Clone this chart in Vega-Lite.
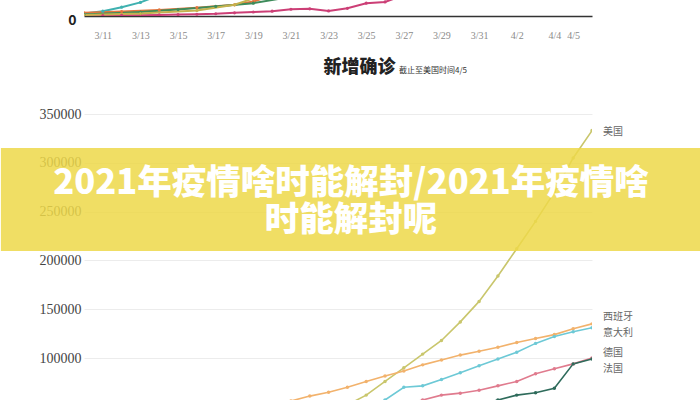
{
  "$schema": "https://vega.github.io/schema/vega-lite/v6.json",
  "padding": 0,
  "background": "white",
  "bounds": "flush",
  "spacing": 98,
  "resolve": {"scale": {"color": "independent", "x": "independent", "y": "independent"}},
  "config": {"view": {"stroke": null}, "font": "Noto Sans CJK SC"},
  "datasets": {
    "top": [
      {"series": "美国", "date": "2020-03-10", "cases": 20},
      {"series": "美国", "date": "2020-03-11", "cases": 30},
      {"series": "美国", "date": "2020-03-12", "cases": 40},
      {"series": "美国", "date": "2020-03-13", "cases": 50},
      {"series": "美国", "date": "2020-03-14", "cases": 70},
      {"series": "美国", "date": "2020-03-15", "cases": 90},
      {"series": "美国", "date": "2020-03-16", "cases": 110},
      {"series": "美国", "date": "2020-03-17", "cases": 140},
      {"series": "美国", "date": "2020-03-18", "cases": 200},
      {"series": "美国", "date": "2020-03-19", "cases": 250},
      {"series": "美国", "date": "2020-03-20", "cases": 300},
      {"series": "美国", "date": "2020-03-21", "cases": 420},
      {"series": "美国", "date": "2020-03-22", "cases": 450},
      {"series": "美国", "date": "2020-03-23", "cases": 320},
      {"series": "美国", "date": "2020-03-24", "cases": 480},
      {"series": "美国", "date": "2020-03-25", "cases": 800},
      {"series": "美国", "date": "2020-03-26", "cases": 880},
      {"series": "美国", "date": "2020-03-27", "cases": 1300},
      {"series": "意大利", "date": "2020-03-10", "cases": 150},
      {"series": "意大利", "date": "2020-03-11", "cases": 300},
      {"series": "意大利", "date": "2020-03-12", "cases": 550},
      {"series": "意大利", "date": "2020-03-13", "cases": 850},
      {"series": "意大利", "date": "2020-03-14", "cases": 1300},
      {"series": "西班牙", "date": "2020-03-10", "cases": 200},
      {"series": "西班牙", "date": "2020-03-12", "cases": 280},
      {"series": "西班牙", "date": "2020-03-14", "cases": 380},
      {"series": "西班牙", "date": "2020-03-16", "cases": 520},
      {"series": "西班牙", "date": "2020-03-18", "cases": 700},
      {"series": "西班牙", "date": "2020-03-19", "cases": 900},
      {"series": "西班牙", "date": "2020-03-20", "cases": 1300},
      {"series": "德国", "date": "2020-03-10", "cases": 100},
      {"series": "德国", "date": "2020-03-13", "cases": 250},
      {"series": "德国", "date": "2020-03-15", "cases": 400},
      {"series": "德国", "date": "2020-03-17", "cases": 600},
      {"series": "德国", "date": "2020-03-19", "cases": 800},
      {"series": "德国", "date": "2020-03-21", "cases": 1200},
      {"series": "法国", "date": "2020-03-10", "cases": 60},
      {"series": "法国", "date": "2020-03-13", "cases": 150},
      {"series": "法国", "date": "2020-03-16", "cases": 350},
      {"series": "法国", "date": "2020-03-18", "cases": 700},
      {"series": "法国", "date": "2020-03-19", "cases": 1100}
    ],
    "main": [
      {"series": "美国", "date": "2020-03-24", "cases": 52000},
      {"series": "美国", "date": "2020-03-25", "cases": 62000},
      {"series": "美国", "date": "2020-03-26", "cases": 76000},
      {"series": "美国", "date": "2020-03-27", "cases": 90000},
      {"series": "美国", "date": "2020-03-28", "cases": 104000},
      {"series": "美国", "date": "2020-03-29", "cases": 118000},
      {"series": "美国", "date": "2020-03-30", "cases": 137000},
      {"series": "美国", "date": "2020-03-31", "cases": 158000},
      {"series": "美国", "date": "2020-04-01", "cases": 184000},
      {"series": "美国", "date": "2020-04-02", "cases": 212000},
      {"series": "美国", "date": "2020-04-03", "cases": 240000},
      {"series": "美国", "date": "2020-04-04", "cases": 270000},
      {"series": "美国", "date": "2020-04-05", "cases": 305000},
      {"series": "美国", "date": "2020-04-06", "cases": 333000},
      {"series": "西班牙", "date": "2020-03-20", "cases": 52000},
      {"series": "西班牙", "date": "2020-03-21", "cases": 56000},
      {"series": "西班牙", "date": "2020-03-22", "cases": 61000},
      {"series": "西班牙", "date": "2020-03-23", "cases": 65000},
      {"series": "西班牙", "date": "2020-03-24", "cases": 70000},
      {"series": "西班牙", "date": "2020-03-25", "cases": 76000},
      {"series": "西班牙", "date": "2020-03-26", "cases": 81600},
      {"series": "西班牙", "date": "2020-03-27", "cases": 86700},
      {"series": "西班牙", "date": "2020-03-28", "cases": 93000},
      {"series": "西班牙", "date": "2020-03-29", "cases": 98000},
      {"series": "西班牙", "date": "2020-03-30", "cases": 103000},
      {"series": "西班牙", "date": "2020-03-31", "cases": 107000},
      {"series": "西班牙", "date": "2020-04-01", "cases": 111000},
      {"series": "西班牙", "date": "2020-04-02", "cases": 116000},
      {"series": "西班牙", "date": "2020-04-03", "cases": 120000},
      {"series": "西班牙", "date": "2020-04-04", "cases": 124000},
      {"series": "西班牙", "date": "2020-04-05", "cases": 130000},
      {"series": "西班牙", "date": "2020-04-06", "cases": 135000},
      {"series": "意大利", "date": "2020-03-24", "cases": 47000},
      {"series": "意大利", "date": "2020-03-25", "cases": 50000},
      {"series": "意大利", "date": "2020-03-26", "cases": 57000},
      {"series": "意大利", "date": "2020-03-27", "cases": 70000},
      {"series": "意大利", "date": "2020-03-28", "cases": 71500},
      {"series": "意大利", "date": "2020-03-29", "cases": 78000},
      {"series": "意大利", "date": "2020-03-30", "cases": 85000},
      {"series": "意大利", "date": "2020-03-31", "cases": 92000},
      {"series": "意大利", "date": "2020-04-01", "cases": 99000},
      {"series": "意大利", "date": "2020-04-02", "cases": 106000},
      {"series": "意大利", "date": "2020-04-03", "cases": 115000},
      {"series": "意大利", "date": "2020-04-04", "cases": 122000},
      {"series": "意大利", "date": "2020-04-05", "cases": 127000},
      {"series": "意大利", "date": "2020-04-06", "cases": 131000},
      {"series": "德国", "date": "2020-03-27", "cases": 52000},
      {"series": "德国", "date": "2020-03-28", "cases": 57000},
      {"series": "德国", "date": "2020-03-29", "cases": 62000},
      {"series": "德国", "date": "2020-03-30", "cases": 64000},
      {"series": "德国", "date": "2020-03-31", "cases": 67000},
      {"series": "德国", "date": "2020-04-01", "cases": 71500},
      {"series": "德国", "date": "2020-04-02", "cases": 76000},
      {"series": "德国", "date": "2020-04-03", "cases": 84000},
      {"series": "德国", "date": "2020-04-04", "cases": 89000},
      {"series": "德国", "date": "2020-04-05", "cases": 94000},
      {"series": "德国", "date": "2020-04-06", "cases": 100000},
      {"series": "法国", "date": "2020-03-31", "cases": 52000},
      {"series": "法国", "date": "2020-04-01", "cases": 57000},
      {"series": "法国", "date": "2020-04-02", "cases": 62000},
      {"series": "法国", "date": "2020-04-03", "cases": 64500},
      {"series": "法国", "date": "2020-04-04", "cases": 69000},
      {"series": "法国", "date": "2020-04-05", "cases": 94000},
      {"series": "法国", "date": "2020-04-06", "cases": 99000}
    ],
    "labels": [
      {"label": "美国", "date": "2020-04-06", "cases": 332000},
      {"label": "西班牙", "date": "2020-04-06", "cases": 142000},
      {"label": "意大利", "date": "2020-04-06", "cases": 125500},
      {"label": "德国", "date": "2020-04-06", "cases": 105000},
      {"label": "法国", "date": "2020-04-06", "cases": 88500}
    ]
  },
  "vconcat": [
    {
      "width": 508,
      "height": 16,
      "data": {"name": "top"},
      "mark": {"type": "line", "clip": true, "strokeWidth": 2, "point": {"filled": true, "size": 10}},
      "encoding": {
        "x": {
          "field": "date", "type": "temporal",
          "scale": {"type": "utc", "domain": [{"year": 2020, "month": 3, "date": 10, "utc": true}, {"year": 2020, "month": 4, "date": 6, "utc": true}]},
          "axis": {
            "values": [
              {"year": 2020, "month": 3, "date": 11, "utc": true},
              {"year": 2020, "month": 3, "date": 13, "utc": true},
              {"year": 2020, "month": 3, "date": 15, "utc": true},
              {"year": 2020, "month": 3, "date": 17, "utc": true},
              {"year": 2020, "month": 3, "date": 19, "utc": true},
              {"year": 2020, "month": 3, "date": 21, "utc": true},
              {"year": 2020, "month": 3, "date": 23, "utc": true},
              {"year": 2020, "month": 3, "date": 25, "utc": true},
              {"year": 2020, "month": 3, "date": 27, "utc": true},
              {"year": 2020, "month": 3, "date": 29, "utc": true},
              {"year": 2020, "month": 3, "date": 31, "utc": true},
              {"year": 2020, "month": 4, "date": 2, "utc": true},
              {"year": 2020, "month": 4, "date": 4, "utc": true},
              {"year": 2020, "month": 4, "date": 5, "utc": true}
            ],
            "format": "%-m/%-d",
            "labelOverlap": false,
            "labelBound": false,
            "ticks": false,
            "grid": false,
            "domainColor": "#333333",
            "domainWidth": 1.5,
            "labelFont": "Liberation Sans Narrow",
            "labelFontSize": 10,
            "labelColor": "#8a8a8a",
            "labelPadding": 14,
            "title": "新增确诊",
            "titleFont": "Noto Sans CJK SC",
            "titleFontSize": 18,
            "titleFontWeight": 900,
            "titleColor": "#222222",
            "titlePadding": 18,
            "titleX": 275
          }
        },
        "y": {
          "field": "cases", "type": "quantitative",
          "scale": {"domain": [0, 1000]},
          "axis": {"values": [0], "title": null, "grid": false, "domain": false, "ticks": false, "labelFontSize": 14, "labelFontWeight": "bold", "labelColor": "#222222", "labelPadding": 8, "labelOffset": 4}
        },
        "color": {
          "field": "series", "type": "nominal", "legend": null,
          "scale": {"domain": ["美国", "意大利", "西班牙", "德国", "法国"], "range": ["#cc3f76", "#3fb1b0", "#e4743c", "#3d8b5a", "#c4b24e"]}
        }
      }
    },
    {
      "width": 508,
      "height": 286,
      "title": {"text": "截止至美国时间4/5", "fontSize": 8, "fontWeight": "normal", "color": "#333333", "anchor": "start", "dx": 315, "offset": 32, "frame": "group"},
      "layer": [
        {
          "data": {"name": "main"},
          "mark": {"type": "line", "clip": true, "strokeWidth": 1.6, "point": {"filled": true, "size": 12}},
          "encoding": {
            "x": {"field": "date", "type": "temporal", "scale": {"type": "utc", "domain": [{"year": 2020, "month": 3, "date": 10, "utc": true}, {"year": 2020, "month": 4, "date": 6, "utc": true}]}, "axis": null},
            "y": {
              "field": "cases", "type": "quantitative",
              "scale": {"domain": [57000, 350000], "nice": false, "zero": false},
              "axis": {"values": [100000, 150000, 200000, 250000, 300000, 350000], "title": null, "domain": false, "ticks": false, "gridColor": "#ececec", "gridWidth": 1, "labelFont": "Liberation Sans Narrow", "labelFontSize": 14, "labelColor": "#444444", "labelPadding": 3, "format": "d"}
            },
            "color": {
              "field": "series", "type": "nominal", "legend": null,
              "scale": {"domain": ["美国", "西班牙", "意大利", "德国", "法国"], "range": ["#c9c66c", "#f2b26c", "#6dc9d6", "#e07b8e", "#2e6b5b"]}
            }
          }
        },
        {
          "data": {"name": "labels"},
          "mark": {"type": "text", "align": "left", "baseline": "middle", "dx": 11, "fontSize": 10, "color": "#666666"},
          "encoding": {
            "x": {"field": "date", "type": "temporal"},
            "y": {"field": "cases", "type": "quantitative"},
            "text": {"field": "label"}
          }
        },
        {
          "data": {"values": [{}]},
          "mark": {"type": "rect", "color": "#edd849", "opacity": 0.85},
          "encoding": {
            "x": {"datum": {"year": 2020, "month": 3, "date": 5, "hours": 14, "utc": true}, "type": "temporal"},
            "x2": {"datum": {"year": 2020, "month": 4, "date": 11, "hours": 19, "utc": true}},
            "y": {"datum": 315200, "type": "quantitative"},
            "y2": {"datum": 209600}
          }
        },
        {
          "data": {"values": [{}]},
          "mark": {"type": "text", "text": "2021年疫情啥时能解封/2021年疫情啥", "fontSize": 34.5, "fontWeight": 900, "color": "#ffffff", "align": "center", "baseline": "middle"},
          "encoding": {
            "x": {"datum": {"year": 2020, "month": 3, "date": 24, "hours": 4, "minutes": 35, "utc": true}, "type": "temporal"},
            "y": {"datum": 278300, "type": "quantitative"}
          }
        },
        {
          "data": {"values": [{}]},
          "mark": {"type": "text", "text": "时能解封呢", "fontSize": 34.5, "fontWeight": 900, "color": "#ffffff", "align": "center", "baseline": "middle"},
          "encoding": {
            "x": {"datum": {"year": 2020, "month": 3, "date": 24, "hours": 4, "minutes": 35, "utc": true}, "type": "temporal"},
            "y": {"datum": 240400, "type": "quantitative"}
          }
        }
      ]
    }
  ]
}
